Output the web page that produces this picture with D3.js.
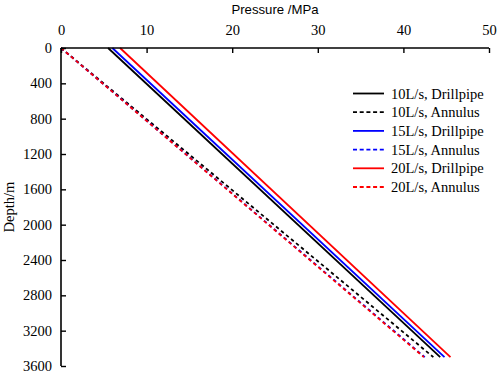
<!DOCTYPE html>
<html><head><meta charset="utf-8">
<script src="https://cdn.jsdelivr.net/npm/d3@7"></script>
<style>body{margin:0;background:#fff}svg{display:block}.serif{font-family:"Liberation Serif","Times New Roman",serif}</style>
</head><body>
<svg id="c" width="498" height="373"></svg>
<script>
const depths = [0, 3500];
const drill10 = [5.5, 44.3];
const annul10 = [0, 43.5];
const drill15 = [6.0, 44.8];
const annul15 = [0, 42.5];
const drill20 = [6.9, 45.5];
const annul20 = [0, 42.4];
const seriesNames = ["10L/s, Drillpipe","10L/s, Annulus","15L/s, Drillpipe","15L/s, Annulus","20L/s, Drillpipe","20L/s, Annulus"];
const xTicks = [0,10,20,30,40,50];
const yTicks = [0,400,800,1200,1600,2000,2400,2800,3200,3600];

const series = [
  {name: seriesNames[0], vals: drill10, color: "#000", dash: null},
  {name: seriesNames[1], vals: annul10, color: "#000", dash: "3.5,3"},
  {name: seriesNames[2], vals: drill15, color: "#0000ff", dash: null},
  {name: seriesNames[3], vals: annul15, color: "#0000ff", dash: "3.5,3"},
  {name: seriesNames[4], vals: drill20, color: "#ff0000", dash: null},
  {name: seriesNames[5], vals: annul20, color: "#ff0000", dash: "3.5,3"}
];

const L = 61, T = 48, W = 428, H = 318;
const svg = d3.select("#c");
const x = d3.scaleLinear().domain([0,50]).range([L, L+W]);
const y = d3.scaleLinear().domain([0,3600]).range([T, T+H]);
const serif = '"Liberation Serif","Times New Roman",serif';

const line = d3.line().x(d => x(d[0])).y(d => y(d[1]));
svg.append("g").selectAll("path").data(series).join("path")
  .attr("d", s => line(s.vals.map((v,i) => [v, depths[i]])))
  .attr("fill","none").attr("stroke", s => s.color)
  .attr("stroke-width", 1.8).attr("stroke-dasharray", s => s.dash);

const xa = svg.append("g").attr("transform", `translate(0,${T})`)
  .call(d3.axisTop(x).tickValues(xTicks).tickSize(-5).tickPadding(13).tickFormat(d3.format("d")));
const ya = svg.append("g").attr("transform", `translate(${L},0)`)
  .call(d3.axisLeft(y).tickValues(yTicks).tickSize(-5).tickPadding(9).tickFormat(d3.format("d")));
[xa, ya].forEach(a => {
  a.attr("font-family", null).attr("font-size", null).classed("serif", true);
  a.select(".domain").attr("stroke","#000").attr("stroke-width",1.6);
  a.selectAll(".tick line").attr("stroke","#000").attr("stroke-width",1.4);
  a.selectAll(".tick text").classed("serif", true).style("font-family", serif).style("font-size", "14.5px").attr("fill","#000");
});
xa.select(".domain").attr("d", `M${L},0H${L+W}`);
ya.select(".domain").attr("d", `M0,${T}V${T+H}`);

svg.append("text").attr("x", x(25)).attr("y", 14).attr("text-anchor","middle")
  .style("font-family",'"Liberation Sans",Arial,sans-serif').style("font-size","13.2px").text("Pressure /MPa");
svg.append("text").attr("transform", `translate(14,${y(1800)}) rotate(-90)`).attr("text-anchor","middle")
  .attr("class","serif").style("font-size","14.5px").text("Depth/m");

const lg = svg.append("g");
series.forEach((s,i) => {
  const yy = 93.5 + i*18.7;
  lg.append("line").attr("x1",353).attr("x2",384).attr("y1",yy).attr("y2",yy)
    .attr("stroke", s.color).attr("stroke-width",1.8).attr("stroke-dasharray", s.dash ? "4,2.7" : null);
  lg.append("text").attr("x",391).attr("y",yy+5).attr("class","serif").style("font-size","14.5px").text(s.name);
});
</script>
</body></html>
